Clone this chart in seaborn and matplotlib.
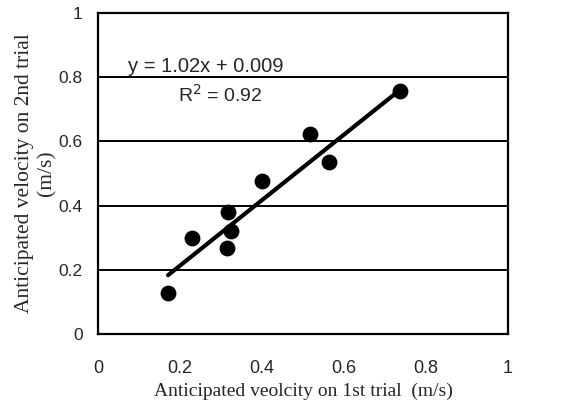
import numpy as np
import pandas as pd
import matplotlib
matplotlib.use("Agg")
import matplotlib.pyplot as plt
import seaborn as sns

# Data
first_trial = [0.171, 0.229, 0.317, 0.324, 0.314, 0.400, 0.517, 0.563, 0.737]
second_trial = [0.128, 0.299, 0.380, 0.321, 0.268, 0.477, 0.623, 0.536, 0.757]
slope = 1.02
intercept = 0.009
x_ticks = [0, 0.2, 0.4, 0.6, 0.8, 1]
y_ticks = [0, 0.2, 0.4, 0.6, 0.8, 1]
x_tick_labels = ["0", "0.2", "0.4", "0.6", "0.8", "1"]
y_tick_labels = ["0", "0.2", "0.4", "0.6", "0.8", "1"]

df = pd.DataFrame({"x": first_trial, "y": second_trial})

sns.set_style("white")
plt.rcParams['font.family'] = ['Liberation Sans', 'DejaVu Sans']

fig = plt.figure(figsize=(5.76, 4.03), dpi=100)
ax = fig.add_axes([0.170, 0.171, 0.712, 0.797])

for yv in y_ticks[1:-1]:
    ax.axhline(yv, color="black", lw=1.4, zorder=1)

xl = np.array([min(first_trial), 0.725])
line_df = pd.DataFrame({"x": xl, "y": slope * xl + intercept})
sns.lineplot(data=line_df, x="x", y="y", color="black", lw=3, ax=ax, zorder=2)

sns.scatterplot(data=df, x="x", y="y", color="black", s=130, edgecolor="black",
                linewidth=0, ax=ax, zorder=3)

ax.set_xlim(0, 1)
ax.set_ylim(0, 1)
ax.set_xticks(x_ticks)
ax.set_xticklabels(x_tick_labels)
ax.set_yticks(y_ticks)
ax.set_yticklabels(y_tick_labels)
ax.tick_params(axis="x", direction="in", length=4, width=1, pad=19, labelsize=13, color="black")
ax.tick_params(axis="y", length=0, pad=11, labelsize=12.5)

for sp in ax.spines.values():
    sp.set_color("black")
    sp.set_linewidth(1.6)
    sp.set_visible(True)

ax.set_xlabel("Anticipated veolcity on 1st trial  (m/s)", family="Liberation Serif",
              fontsize=14, labelpad=4)
ax.set_ylabel("Anticipated velocity on 2nd trial\n(m/s)", family="Liberation Serif",
              fontsize=15.5, linespacing=1.25)
ax.yaxis.set_label_coords(-0.1, 0.5)

ax.text(0.073, 0.805, "y = 1.02x + 0.009", fontsize=14.5, ha="left", va="bottom")
ax.text(0.195, 0.745, "R$^2$ = 0.92", fontsize=14, ha="left", va="center")

fig.savefig("out.png", dpi=100)
